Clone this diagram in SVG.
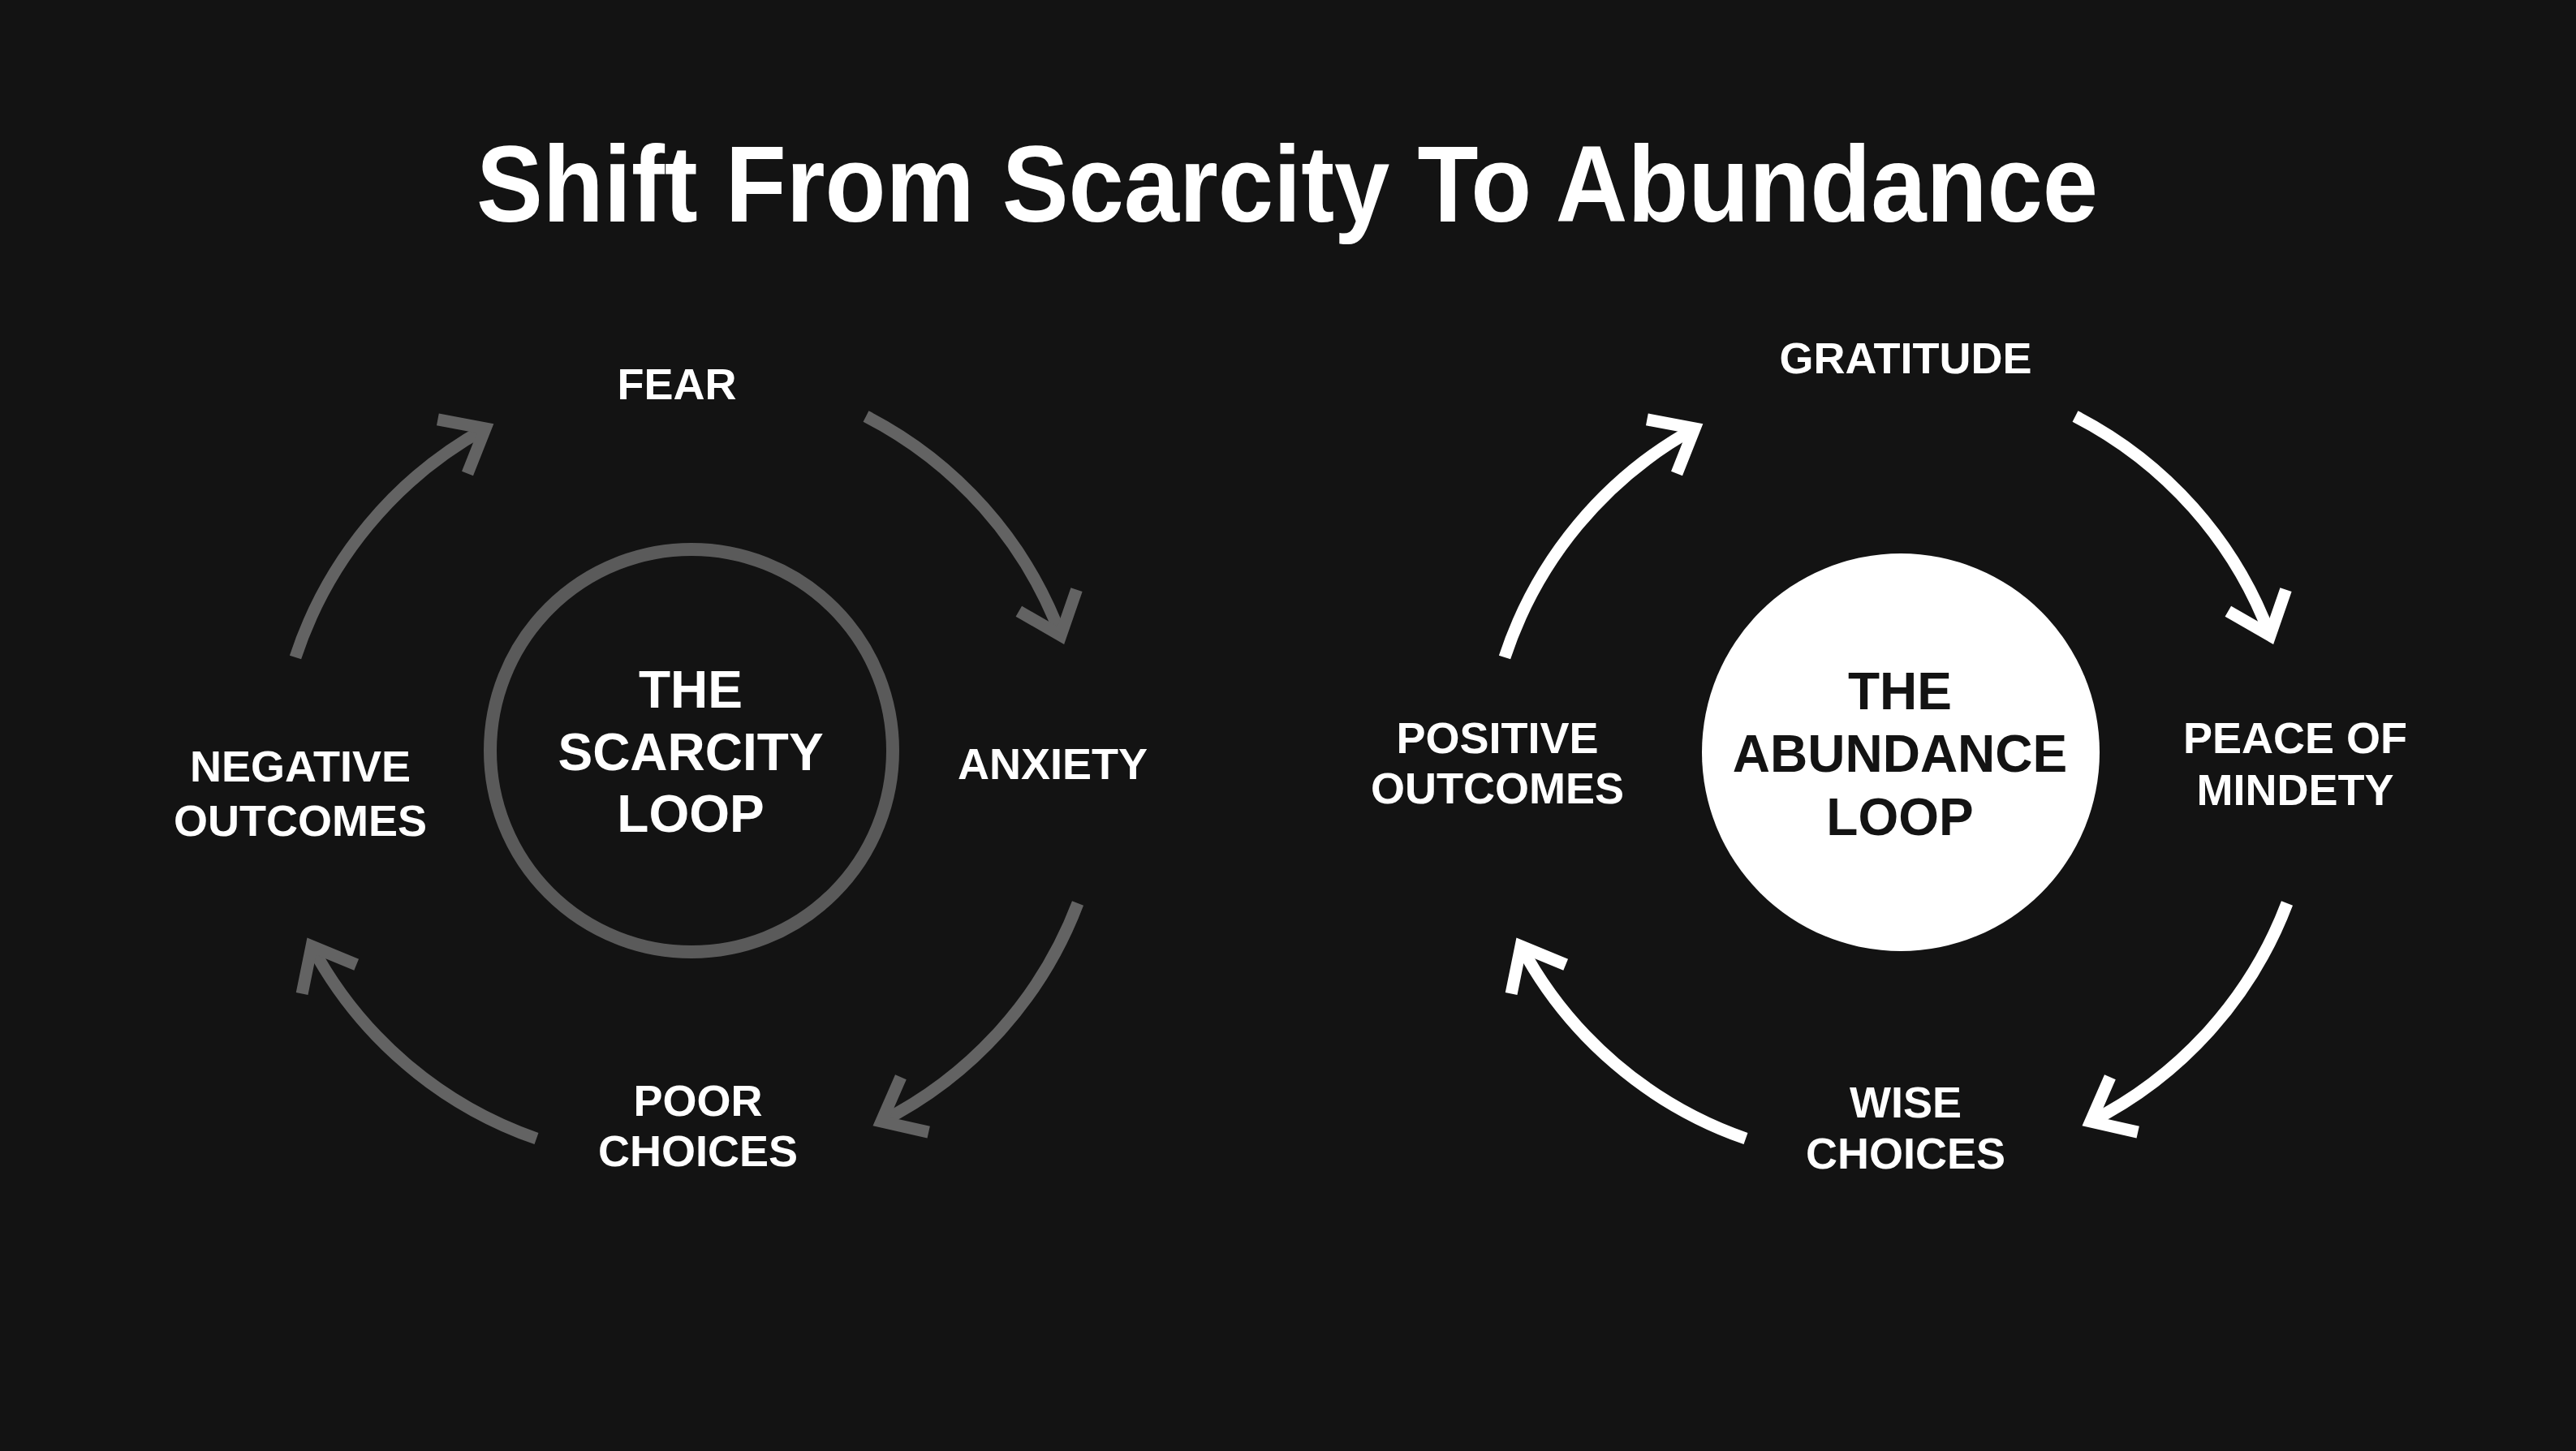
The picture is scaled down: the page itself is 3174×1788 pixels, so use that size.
<svg xmlns="http://www.w3.org/2000/svg" width="3174" height="1788" viewBox="0 0 3174 1788">
  <style>
    .title { font-family: "Liberation Sans", Arial, sans-serif; font-weight: 700; font-size: 134px; fill: #ffffff; }
    .lbl { font-family: "Liberation Sans", Arial, sans-serif; font-weight: 700; font-size: 54px; fill: #ffffff; text-anchor: middle; }
    .core { font-family: "Liberation Sans", Arial, sans-serif; font-weight: 700; font-size: 64px; text-anchor: middle; }
    .grey { fill: none; stroke: #636363; stroke-width: 15; }
    .white { fill: none; stroke: #ffffff; stroke-width: 15; }
  </style>
  <defs>
    <marker id="hg" markerUnits="userSpaceOnUse" viewBox="-70 -70 140 140" markerWidth="140" markerHeight="140" refX="0" refY="0" orient="auto" overflow="visible">
      <path d="M-46,-38 L0,0 L-46,38" fill="none" stroke="#636363" stroke-width="15" stroke-linejoin="miter"/>
    </marker>
    <marker id="hw" markerUnits="userSpaceOnUse" viewBox="-70 -70 140 140" markerWidth="140" markerHeight="140" refX="0" refY="0" orient="auto" overflow="visible">
      <path d="M-46,-38 L0,0 L-46,38" fill="none" stroke="#ffffff" stroke-width="15" stroke-linejoin="miter"/>
    </marker>
  </defs>
  <rect x="0" y="0" width="3174" height="1788" fill="#131313"/>
  <text class="title" x="1586" y="273" text-anchor="middle" textLength="1998" lengthAdjust="spacingAndGlyphs">Shift From Scarcity To Abundance</text>

  <g id="connectors">
    <path class="grey" d="M364,810 A500,500 0 0,1 598,528" marker-end="url(#hg)"/>
    <path class="grey" d="M1067,513 A500,500 0 0,1 1307,783" marker-end="url(#hg)"/>
    <path class="grey" d="M1328,1113 A500,500 0 0,1 1086,1382" marker-end="url(#hg)"/>
    <path class="grey" d="M661,1403 A500,500 0 0,1 384,1166" marker-end="url(#hg)"/>
    <path class="white" d="M1854,810 A500,500 0 0,1 2088,528" marker-end="url(#hw)"/>
    <path class="white" d="M2557,513 A500,500 0 0,1 2797,783" marker-end="url(#hw)"/>
    <path class="white" d="M2818,1113 A500,500 0 0,1 2576,1382" marker-end="url(#hw)"/>
    <path class="white" d="M2151,1403 A500,500 0 0,1 1874,1166" marker-end="url(#hw)"/>
  </g>

  <g id="scarcity-loop">
    <circle cx="852" cy="925" r="248" fill="none" stroke="#5a5a5a" stroke-width="16"/>
    <text class="core" fill="#ffffff"><tspan x="851" y="872">THE</tspan><tspan x="851" y="949">SCARCITY</tspan><tspan x="851" y="1025">LOOP</tspan></text>
  </g>
  <g id="fear"><text class="lbl" x="834" y="492">FEAR</text></g>
  <g id="anxiety"><text class="lbl" x="1297" y="960">ANXIETY</text></g>
  <g id="poor-choices"><text class="lbl"><tspan x="860" y="1375">POOR</tspan><tspan x="860" y="1437">CHOICES</tspan></text></g>
  <g id="negative-outcomes"><text class="lbl"><tspan x="370" y="963">NEGATIVE</tspan><tspan x="370" y="1030">OUTCOMES</tspan></text></g>

  <g id="abundance-loop">
    <circle cx="2342" cy="927" r="245" fill="#ffffff"/>
    <text class="core" fill="#131313"><tspan x="2341" y="874">THE</tspan><tspan x="2341" y="951">ABUNDANCE</tspan><tspan x="2341" y="1029">LOOP</tspan></text>
  </g>
  <g id="gratitude"><text class="lbl" x="2348" y="460">GRATITUDE</text></g>
  <g id="peace-of-mindety"><text class="lbl"><tspan x="2828" y="928">PEACE OF</tspan><tspan x="2828" y="992">MINDETY</tspan></text></g>
  <g id="wise-choices"><text class="lbl"><tspan x="2348" y="1377">WISE</tspan><tspan x="2348" y="1440">CHOICES</tspan></text></g>
  <g id="positive-outcomes"><text class="lbl"><tspan x="1845" y="928">POSITIVE</tspan><tspan x="1845" y="990">OUTCOMES</tspan></text></g>
</svg>
